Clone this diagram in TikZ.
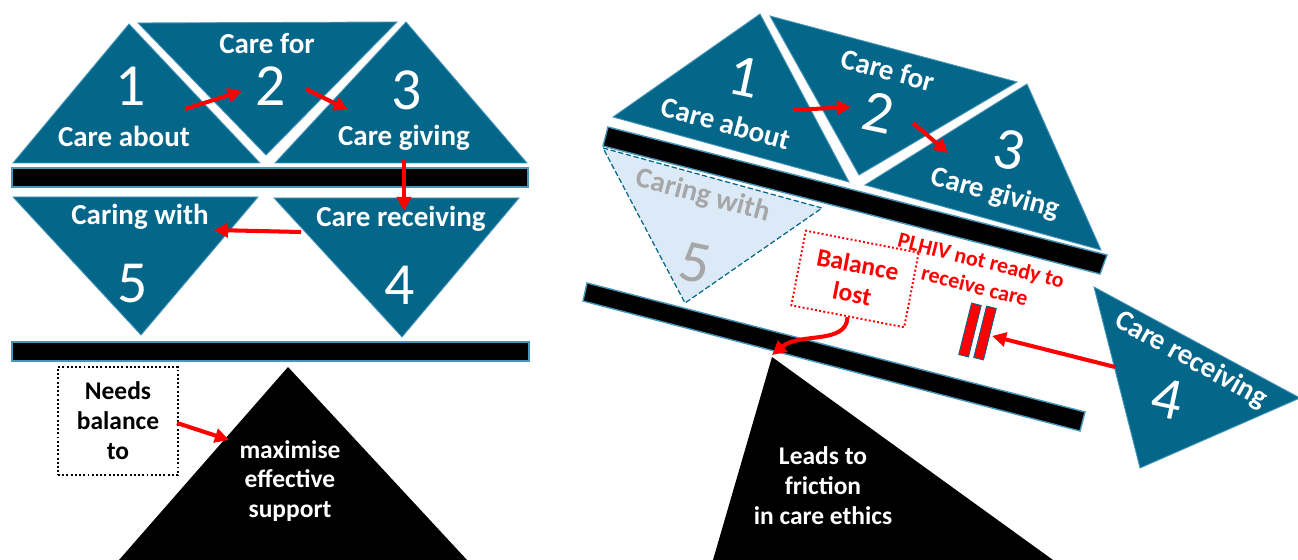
\documentclass[tikz,border=0pt]{standalone}
\usepackage{fontspec}
\setmainfont{Carlito}
\usetikzlibrary{arrows.meta}
\definecolor{teal1}{RGB}{4,102,137}
\definecolor{edgec}{RGB}{70,150,185}
\definecolor{lightblue}{RGB}{220,234,247}
\definecolor{gray1}{RGB}{166,166,166}
\definecolor{red1}{RGB}{255,0,0}
\tikzset{
 tri/.style={fill=teal1, draw=edgec, line width=0.5pt},
 barstyle/.style={fill=black, draw=edgec, line width=0.8pt},
 lbl/.style={text=white, font=\bfseries\fontsize{16.5}{19}\selectfont, inner sep=0pt},
 num/.style={text=white, font=\fontsize{34}{40}\selectfont, inner sep=0pt},
 note/.style={font=\bfseries\fontsize{14.5}{17}\selectfont, align=center, inner sep=0pt},
 redarrow/.style={draw=red1, line width=2.3pt, -{Triangle[length=8pt,width=8pt]}},
 dotbox/.style={draw, line width=1.1pt, dash pattern=on 1.1pt off 1.3pt},
 pausebar/.style={fill=red1, draw=teal1, line width=0.5pt, minimum width=0.2cm, minimum height=1.06cm, inner sep=0pt},
}
\begin{document}
\begin{tikzpicture}[x=0.02cm,y=-0.02cm]
\useasboundingbox (0,0) rectangle (1298,560);
\clip (0,0) rectangle (1298,560);
% ================= LEFT =================
\path[tri] (129,24) -- (260,163) -- (13,163) -- cycle;
\path[tri] (138,23) -- (397,22) -- (266,155) -- cycle;
\path[tri] (406,22) -- (527,163) -- (275,163) -- cycle;
\path[barstyle] (12,168) rectangle (528,187);
\path[tri] (13,197) -- (258,197) -- (141,335) -- cycle;
\path[tri] (274,198) -- (519,198) -- (402,337) -- cycle;
\path[barstyle] (12,342) rectangle (529,361);
\fill[black] (288,367) -- (467,560) -- (119,560) -- cycle;

\node[num, anchor=base] (l1) at (131,106) {1};
\node[lbl, anchor=base] (lCareAbout) at (124,147) {Care about};
\node[lbl, anchor=base] (lCareFor) at (267,54) {Care for};
\node[num, anchor=base] (l2) at (271,106) {2};
\node[num, anchor=base] (l3) at (407,110) {3};
\node[lbl, anchor=base] (lCareGiving) at (404,146) {Care giving};
\node[lbl, anchor=base] (lCaringWith) at (140,225) {Caring with};
\node[num, anchor=base] (l5) at (133,303) {5};
\node[lbl, anchor=base] (lCareRec) at (401,227) {Care receiving};
\node[num, anchor=base] (l4) at (400,305) {4};

\node[note, dotbox, minimum width=2.4cm, minimum height=2.16cm] (needs) at (118,421) {Needs\\balance\\to};
\node[note, text=white] (maxim) at (290,481) {maximise\\effective\\support};

\coordinate (a12s) at (185,109); \coordinate (a12e) at (242,91);
\coordinate (a23s) at (306,89); \coordinate (a23e) at (348,110);
\coordinate (a34s) at (404,160); \coordinate (a34e) at (404,211);
\coordinate (a45s) at (301,232); \coordinate (a45e) at (214,230);
\coordinate (ansS) at (177,423); \coordinate (ansE) at (229,440);
\draw[redarrow] (a12s) -- (a12e);
\draw[redarrow] (a23s) -- (a23e);
\draw[redarrow] (a34s) -- (a34e);
\draw[redarrow] (a45s) -- (a45e);
\draw[redarrow] (ansS) -- (ansE);

% ================= RIGHT =================
\path[tri] (760,14) -- (849,182) -- (613,117) -- cycle;
\path[tri] (770,16) -- (1017,82) -- (859,175) -- cycle;
\path[tri] (1027,84) -- (1101,250) -- (865,185) -- cycle;
\path[barstyle] (608,127) -- (1107,255) -- (1100,274) -- (603,146) -- cycle;
\path[fill=lightblue, draw=teal1, line width=0.7pt, dash pattern=on 3pt off 1.5pt] (603,148) -- (822,208) -- (685,303) -- cycle;
\path[barstyle] (587,283) -- (1085,412) -- (1080,431) -- (583,301) -- cycle;
\fill[black] (772,357) -- (1053,560) -- (713,560) -- cycle;
\path[tri] (1094,287) -- (1300,398) -- (1140,468) -- cycle;

\node[num, rotate=-12] (r1) at (744,77) {1};
\node[lbl, rotate=-15] (rCareAbout) at (726,123) {Care about};
\node[lbl, rotate=-15] (rCareFor) at (888,70) {Care for};
\node[num, rotate=-12] (r2) at (878,113) {2};
\node[num, rotate=-12] (r3) at (1009,150) {3};
\node[lbl, rotate=-15] (rCareGiving) at (995,194) {Care giving};
\node[lbl, rotate=-15, text=gray1] (rCaringWith) at (703,196) {Caring with};
\node[num, rotate=-12, text=gray1] (r5) at (695,263) {5};
\node[lbl, rotate=-29] (rCareRec) at (1191,360) {Care receiving};
\node[num, rotate=-12] (r4) at (1167,399) {4};

\node[note, text=red1, draw=red1, line width=1.1pt, dash pattern=on 1.1pt off 1.3pt, rotate=-11, minimum width=2.3cm, minimum height=1.52cm] (balance) at (855,279) {Balance\\lost};
\node[note, text=red1, font=\bfseries\fontsize{12.5}{15}\selectfont, rotate=-14] (plhiv) at (978,273) {PLHIV not ready to\\receive care};
\node[pausebar, rotate=-14] (pb1) at (970,330) {};
\node[pausebar, rotate=-14] (pb2) at (985,333) {};
\node[note, text=white] (leads) at (823,486) {Leads to\\friction\\in care ethics};

\coordinate (a12rs) at (793,110); \coordinate (a12re) at (851,107);
\coordinate (a23rs) at (913,123); \coordinate (a23re) at (948,153);
\coordinate (apexR) at (772,355);
\coordinate (recS) at (1115,367); \coordinate (recE) at (992,336);
\draw[redarrow] (a12rs) -- (a12re);
\draw[redarrow] (a23rs) -- (a23re);
\draw[redarrow] (balance.south) .. controls (846,345) and (800,332) .. (apexR);
\draw[redarrow] (recS) -- (recE);
\end{tikzpicture}
\end{document}
